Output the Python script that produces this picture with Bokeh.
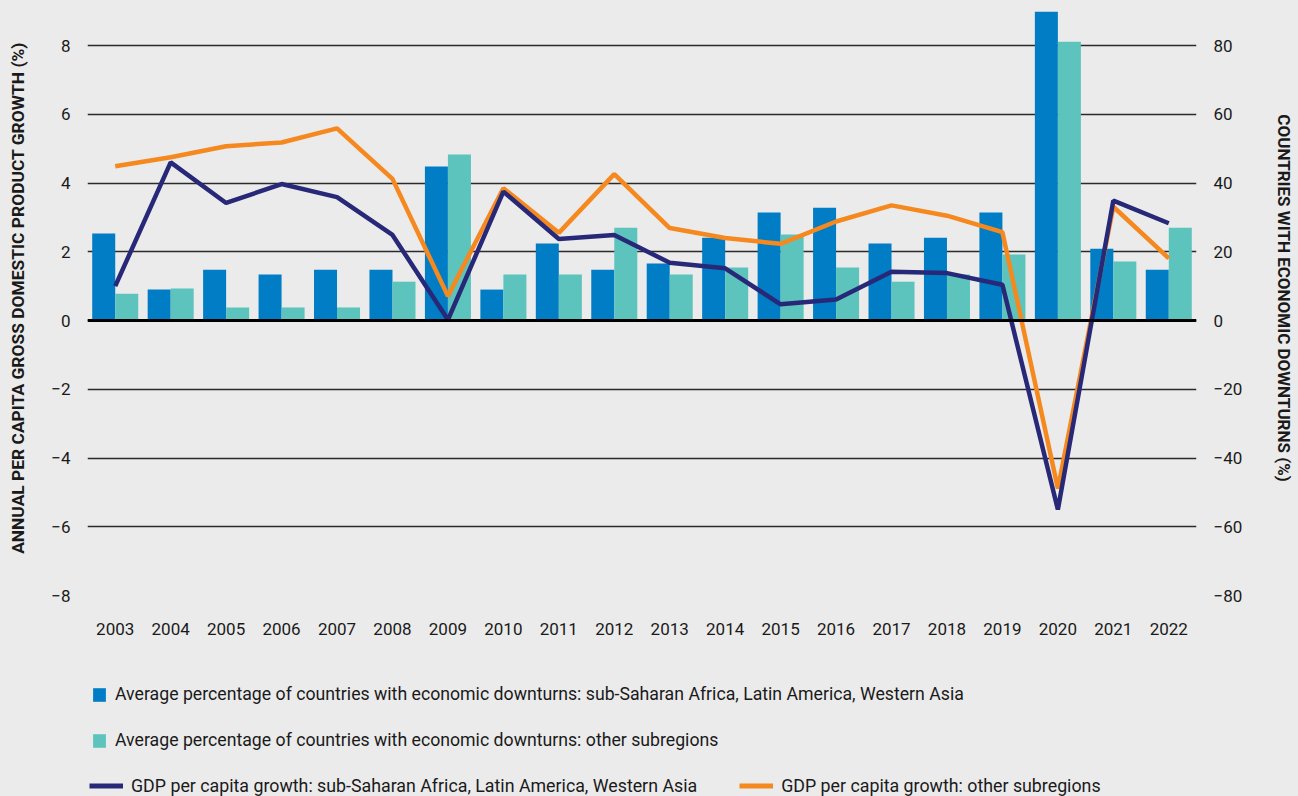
from bokeh.plotting import figure
from bokeh.layouts import column
from bokeh.models import Range1d, LinearAxis, FixedTicker, Span, Legend, LegendItem, ColumnDataSource
from bokeh.transform import dodge
from bokeh.embed import file_html
from bokeh.resources import INLINE

# ---------------- data ----------------
years = list(range(2003, 2023))
year_labels = [str(y) for y in years]
downturn_ssa = [25.3, 9.0, 14.8, 13.4, 14.8, 14.8, 44.8, 9.0, 22.4, 14.8,
                16.6, 24.1, 31.4, 32.8, 22.4, 24.1, 31.4, 89.8, 20.9, 14.8]
downturn_other = [7.8, 9.3, 3.8, 3.8, 3.8, 11.3, 48.3, 13.4, 13.4, 27.0,
                  13.4, 15.4, 25.0, 15.4, 11.3, 13.4, 19.2, 81.1, 17.2, 27.0]
gdp_ssa = [1.00, 4.60, 3.42, 3.97, 3.59, 2.49, 0.02, 3.75, 2.37, 2.49,
           1.68, 1.52, 0.47, 0.61, 1.42, 1.38, 1.04, -5.50, 3.49, 2.83]
gdp_other = [4.49, 4.75, 5.07, 5.18, 5.59, 4.12, 0.71, 3.85, 2.55, 4.26,
             2.69, 2.40, 2.23, 2.88, 3.35, 3.05, 2.57, -4.89, 3.31, 1.81]
left_ticks = [-8, -6, -4, -2, 0, 2, 4, 6, 8]
right_ticks = [-80, -60, -40, -20, 0, 20, 40, 60, 80]

labels = {
    "bar1": "Average percentage of countries with economic downturns: sub-Saharan Africa, Latin America, Western Asia",
    "bar2": "Average percentage of countries with economic downturns: other subregions",
    "line1": "GDP per capita growth: sub-Saharan Africa, Latin America, Western Asia",
    "line2": "GDP per capita growth: other subregions",
}
left_title = "ANNUAL PER CAPITA GROSS DOMESTIC PRODUCT GROWTH (%)"
right_title = "COUNTRIES WITH ECONOMIC DOWNTURNS (%)"

# ---------------- style ----------------
BG = "#ebebeb"
BLUE = "#007dc5"
TEAL = "#5cc4bd"
NAVY = "#282878"
ORANGE = "#f5891f"
FONT = "Roboto"
TXT = "#1a1a1a"
W = 1298

src = ColumnDataSource(dict(year=years, d1=downturn_ssa, d2=downturn_other,
                            g1=gdp_ssa, g2=gdp_other))

p = figure(width=W, height=660, output_backend="svg", toolbar_location=None,
           x_range=Range1d(2002.5, 2022.5), y_range=Range1d(-8, 9.31),
           min_border_left=87, min_border_right=102, min_border_top=0,
           min_border_bottom=65)
p.extra_y_ranges = {"pct": Range1d(-80, 93.1)}
p.background_fill_color = BG
p.border_fill_color = BG
p.outline_line_color = None


def minus(t):
    return ("\u2212" + str(-t)) if t < 0 else str(t)


p.yaxis.ticker = FixedTicker(ticks=left_ticks)
p.yaxis.major_label_overrides = {t: minus(t) for t in left_ticks}
p.yaxis.axis_label = left_title
ax_right = LinearAxis(y_range_name="pct", ticker=FixedTicker(ticks=right_ticks),
                      axis_label=right_title)
ax_right.major_label_overrides = {t: minus(t) for t in right_ticks}
p.add_layout(ax_right, "right")

p.xaxis.ticker = FixedTicker(ticks=years)
p.xaxis.major_label_overrides = {y: s for y, s in zip(years, year_labels)}

for ax in [p.yaxis[0], ax_right, p.xaxis[0]]:
    ax.axis_line_color = None
    ax.major_tick_line_color = None
    ax.minor_tick_line_color = None
    ax.major_tick_out = 0
    ax.major_tick_in = 0
    ax.major_label_text_font = FONT
    ax.major_label_text_font_size = "17px"
    ax.major_label_text_color = TXT
    ax.axis_label_text_font = FONT
    ax.axis_label_text_font_size = "17px"
    ax.axis_label_text_font_style = "bold"
    ax.axis_label_text_color = TXT
p.yaxis[0].axis_label_text_font_size = "17.4px"
p.yaxis[0].major_label_standoff = 17
p.yaxis[0].axis_label_standoff = 20
ax_right.major_label_standoff = 17
ax_right.axis_label_standoff = 29
p.xaxis[0].major_label_standoff = 27

p.xgrid.grid_line_color = None
p.ygrid.ticker = FixedTicker(ticks=left_ticks)
p.ygrid.grid_line_color = "#2b2b2b"
p.ygrid.grid_line_width = 1.4

b1 = p.vbar(x=dodge("year", -0.2075), top="d1", width=0.415, source=src,
            y_range_name="pct", fill_color=BLUE, line_color=None)
b2 = p.vbar(x=dodge("year", 0.2075), top="d2", width=0.415, source=src,
            y_range_name="pct", fill_color=TEAL, line_color=None)

zero = Span(location=0, dimension="width", line_color="black", line_width=3, level="glyph")
p.add_layout(zero)

l2 = p.line(x="year", y="g2", source=src, line_color=ORANGE, line_width=4.5)
l1 = p.line(x="year", y="g1", source=src, line_color=NAVY, line_width=4.5)

# ---------------- legend strip ----------------
q = figure(width=W, height=136, output_backend="svg", toolbar_location=None,
           x_range=Range1d(0, 1), y_range=Range1d(0, 1),
           x_axis_type=None, y_axis_type=None,
           min_border_left=0, min_border_right=0, min_border_top=0, min_border_bottom=0)
q.background_fill_color = BG
q.border_fill_color = BG
q.outline_line_color = None
q.grid.visible = False

# same series as legend keys (hidden in this strip; only their swatches show)
kb1 = q.vbar(x="year", top="d1", width=0.415, source=src, fill_color=BLUE, line_color=None)
kb2 = q.vbar(x="year", top="d2", width=0.415, source=src, fill_color=TEAL, line_color=None)
kl1 = q.line(x="year", y="g1", source=src, line_color=NAVY, line_width=5)
kl2 = q.line(x="year", y="g2", source=src, line_color=ORANGE, line_width=5)
for r in (kb1, kb2, kl1, kl2):
    r.visible = False

leg1 = Legend(items=[LegendItem(label=labels["bar1"], renderers=[kb1]),
                     LegendItem(label=labels["bar2"], renderers=[kb2])],
              orientation="vertical", location=(4, 46))
leg1.glyph_width = 16
leg1.glyph_height = 17
leg1.label_height = 20
leg1.spacing = 26
leg1.label_standoff = 8
leg1.label_text_font_size = "17.7px"

leg2 = Legend(items=[LegendItem(label=labels["line1"], renderers=[kl1]),
                     LegendItem(label=labels["line2"], renderers=[kl2])],
              orientation="horizontal", location=(2, 0))
leg2.glyph_width = 34
leg2.glyph_height = 17
leg2.label_height = 20
leg2.spacing = 42
leg2.label_standoff = 8
leg2.label_text_font_size = "17.8px"

for lg in (leg1, leg2):
    lg.padding = 0
    lg.margin = 0
    lg.border_line_color = None
    lg.background_fill_alpha = 0
    lg.inactive_fill_alpha = 0
    lg.label_text_font = FONT
    lg.label_text_color = TXT
    q.add_layout(lg)

layout = column(p, q, spacing=0)
html = file_html(layout, INLINE)
html = html.replace("</head>", "<style>html, body { background-color: #ebebeb; }</style></head>", 1)
open("out.html", "w").write(html)
